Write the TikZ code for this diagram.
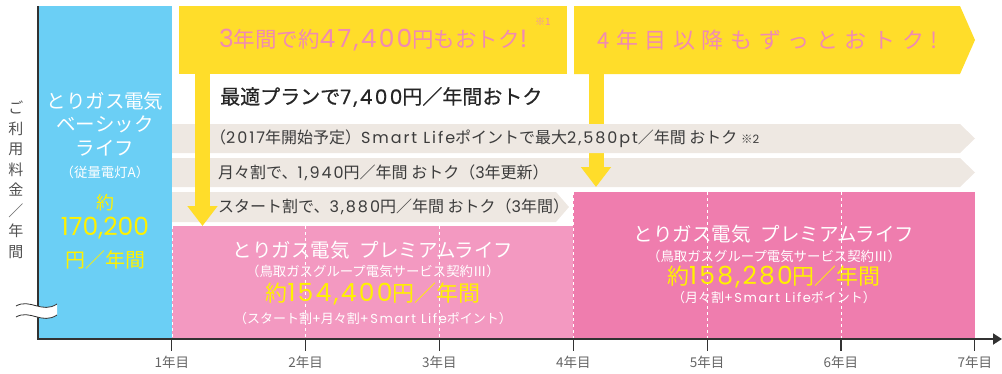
\documentclass[tikz,border=0pt]{standalone}
\usepackage{fontspec}
\setmainfont{Noto Sans CJK JP}
\newfontfamily\latn{Poppins}
\newfontfamily\latb[LetterSpace=12]{Poppins}
\newfontfamily\latw[LetterSpace=9]{Poppins}
\newfontfamily\heavyjp[FakeBold=0.7]{Noto Sans CJK JP}
\newfontfamily\heavylat[FakeBold=0.7,LetterSpace=12]{Poppins}
\newfontfamily\widejp[LetterSpace=30]{Noto Sans CJK JP}
\newcommand\bignum[1]{{\latw\fontsize{25}{26}\selectfont #1}}
\usepackage{xcolor}
\usetikzlibrary{arrows.meta,positioning}
\definecolor{basiccolor}{RGB}{107,207,245}
\definecolor{savecolor}{RGB}{255,221,42}
\definecolor{bandcolor}{RGB}{238,232,226}
\definecolor{premcolor}{RGB}{243,153,193}
\definecolor{premdeep}{RGB}{239,125,174}
\definecolor{pricecolor}{RGB}{255,241,0}
\definecolor{savetext}{RGB}{240,138,178}
\definecolor{bandtext}{RGB}{60,60,60}
\definecolor{axiscolor}{RGB}{50,50,50}

\begin{document}
\begin{tikzpicture}[x=1pt, y=-1pt,
    box/.style={rectangle, inner sep=0pt, anchor=north west},
    bandlabel/.style={anchor=west, inner sep=0pt, text=bandtext, font=\fontsize{16}{19}\selectfont},
    plantitle/.style={text=white, inner sep=0pt, font=\fontsize{19.5}{22}\selectfont},
    plansub/.style={text=white, inner sep=0pt, font=\fontsize{13.4}{16}\selectfont},
    plannote/.style={text=white, inner sep=0pt, font=\fontsize{13}{16}\selectfont},
    price/.style={text=pricecolor, inner sep=0pt, font=\fontsize{22}{26}\selectfont},
    yeardash/.style={white, line width=0.9pt, dash pattern=on 3pt off 3pt},
    bigarrow/.style={savecolor, line width=15pt, -{Triangle[width=29pt,length=20pt]}},
    axisline/.style={axiscolor, line width=1.8pt},
    yearlabel/.style={text=axiscolor!75, inner sep=0pt, font=\fontsize{13.5}{15}\selectfont}
]
\useasboundingbox (0,0) rectangle (1002,373);

% plan areas
\node[box, fill=basiccolor, minimum width=134, minimum height=333] (basic) at (38,6) {};
\node[box, fill=premcolor, minimum width=401, minimum height=113] (prem1) at (172,226) {};
\node[box, fill=premdeep, minimum width=402, minimum height=147] (prem2) at (573,192) {};

\draw[yeardash] (172,124) -- (172,339);
\foreach \x in {305.8,439.6} \draw[yeardash] (\x,226) -- (\x,339);
\foreach \x in {573.5,707.3,841.2} \draw[yeardash] (\x,192) -- (\x,339);

% discount bands
\fill[bandcolor] (172,158) -- (960,158) -- (975,172.5) -- (960,187) -- (172,187) -- cycle;
\fill[bandcolor] (172,192) -- (556,192) -- (569,207) -- (556,222) -- (172,222) -- cycle;

% savings headers
\node[box, fill=savecolor, minimum width=388, minimum height=68, text=savetext,
      font=\fontsize{21.5}{24}\selectfont] (save3) at (179,6) {\bignum{3}年間で約\bignum{47,400}円もおトク\bignum{!}};
\node[text=savetext, inner sep=0pt, font=\fontsize{10}{10}\selectfont] (note1) at (543,22) {※1};
\fill[savecolor] (574,6) -- (960,6) -- (975,40) -- (960,74) -- (574,74) -- cycle;
\node[anchor=west, inner sep=0pt, text=savetext, font=\widejp\fontsize{22}{26}\selectfont] (save4) at (597,40) {4年目以降もずっとおトク!};

\draw[bigarrow] (596,74) -- (596,187);

\fill[bandcolor] (172,124) -- (960,124) -- (975,138.5) -- (960,153) -- (172,153) -- cycle;

\draw[bigarrow] (202.5,0 |- save3.south) -- (202.5,0 |- prem1.north);

% texts
\node[anchor=west, inner sep=0pt, text=black!85, font=\heavyjp\fontsize{20}{24}\selectfont] (best) at (220,97) {最適プランで{\heavylat 7,400}円／年間おトク};
\node[bandlabel] (smart) at (210,138.5) {（{\latb 2017}年開始予定）{\latb Smart Life}ポイントで最大{\latb 2,580pt}／年間 おトク {\fontsize{11.5}{12}\selectfont ※{\latb 2}}};
\node[bandlabel] (monthly) at (218,172.5) {月々割で、{\latb 1,940}円／年間 おトク（{\latb 3}年更新）};
\node[bandlabel] (start) at (218,207) {スタート割で、{\latb 3,880}円／年間 おトク（{\latb 3}年間）};

\node[plantitle] (basicname) at (105,101) {とりガス電気};
\node[plantitle] (basickind) at (105,124) {ベーシック};
\node[plantitle] (basiclife) at (105,148) {ライフ};
\node[plansub] (basicsub) at (105,172) {（従量電灯A）};
\node[price, font=\fontsize{18}{20}\selectfont] (basicabout) at (105,203) {約};
\node[price, font=\latn\fontsize{25}{28}\selectfont] (basicprice) at (105,228) {170,200};
\node[price, font=\fontsize{20}{24}\selectfont] (basicunit) at (105,260) {円／年間};

\node[plantitle] (prem1name) at (373,250) {とりガス電気\hspace{.5em}プレミアムライフ};
\node[plansub] (prem1sub) at (373,271) {（鳥取ガスグループ電気サービス契約Ⅲ）};
\node[price] (prem1price) at (373,294) {約\bignum{154,400}円／年間};
\node[plannote] (prem1note) at (373,319) {（スタート割{\latb +}月々割{\latb +Smart Life}ポイント）};

\node[plantitle] (prem2name) at (774,234) {とりガス電気\hspace{.5em}プレミアムライフ};
\node[plansub] (prem2sub) at (774,256) {（鳥取ガスグループ電気サービス契約Ⅲ）};
\node[price] (prem2price) at (774,277) {約\bignum{158,280}円／年間};
\node[plannote] (prem2note) at (774,298) {（月々割{\latb +Smart Life}ポイント）};

% axes
\node[text=axiscolor!85, align=center, inner sep=0pt, font=\fontsize{15}{20.5}\selectfont] (ylabel) at (16,180) {ご\\利\\用\\料\\金\\／\\年\\間};
\draw[axisline, line join=miter, -{Triangle[width=11pt,length=9pt]}] (38,6) -- (38,339) -- (1002,339);
\foreach \i in {1,...,7} {
  \draw[axiscolor, line width=1.2pt] (38+\i*133.83,339) -- ++(0,12);
  \node[yearlabel] (year\i) at (38+\i*133.83,362) {\i 年目};
}

% break mark
\fill[white] (16,306) .. controls (30,298) and (42,314) .. (57,304) -- (57,315) .. controls (42,325) and (30,309) .. (16,317) -- cycle;
\draw[axiscolor, line width=0.8pt] (16,306) .. controls (30,298) and (42,314) .. (57,304);
\draw[axiscolor, line width=0.8pt] (16,317) .. controls (30,309) and (42,325) .. (57,315);
\end{tikzpicture}
\end{document}
